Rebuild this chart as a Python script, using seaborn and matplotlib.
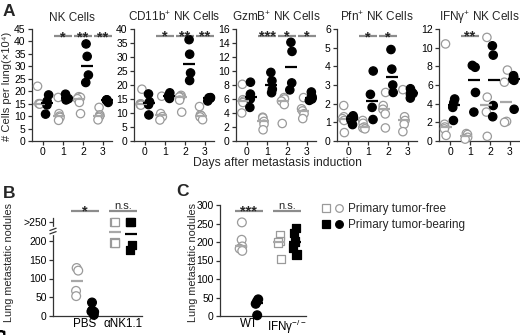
import warnings
warnings.filterwarnings("ignore")
import numpy as np
import pandas as pd
import matplotlib
matplotlib.use("Agg")
import matplotlib.pyplot as plt
import seaborn as sns
from matplotlib.lines import Line2D
from matplotlib.legend_handler import HandlerTuple
from matplotlib.transforms import blended_transform_factory

# ---------------- data ----------------
days = ["0", "1", "2", "3"]
free_label = "Primary tumor-free"
bear_label = "Primary tumor-bearing"

nk_free = [[22.0, 15.0, 15.0, 14.8], [17.5, 11.0, 10.0, 9.5, 8.3], [17.8, 17.5, 17.0, 15.5, 11.0], [13.5, 10.5, 10.0, 9.5, 8.5]]
nk_bear = [[18.5, 16.0, 14.5, 10.8], [18.8, 17.5, 17.0, 16.5], [39.0, 34.0, 26.5, 23.5], [16.5, 16.5, 16.4, 16.3, 15.5]]
cd11b_free = [[18.5, 13.3, 13.2, 13.0, 12.8], [16.0, 9.8, 8.7, 7.5], [16.3, 15.8, 15.7, 14.6, 10.3], [12.3, 9.3, 9.0, 8.6, 7.6]]
cd11b_bear = [[16.8, 14.0, 13.0, 9.3], [17.2, 16.3, 15.8, 15.2], [36.2, 31.0, 24.3, 21.6], [15.5, 15.4, 15.4, 15.3, 14.3]]
gzmb_free = [[8.1, 5.9, 5.7, 5.5, 4.0], [3.4, 3.3, 2.8, 2.4, 1.6], [6.2, 6.0, 5.7, 5.2, 2.5], [6.2, 4.6, 4.3, 3.9, 3.2]]
gzmb_bear = [[8.4, 6.7, 6.0, 4.8], [9.8, 8.6, 7.4, 6.9], [14.1, 12.8, 8.3, 7.3], [7.0, 6.4, 6.2, 6.0, 5.8]]
pfn_free = [[1.9, 1.3, 1.2, 1.1, 0.45], [1.1, 0.95, 0.75, 0.7, 0.65], [2.6, 1.9, 1.7, 1.45, 0.7], [2.75, 1.3, 1.1, 0.9, 0.5]]
pfn_bear = [[1.35, 1.25, 1.2, 1.1, 0.88], [3.75, 2.5, 1.8, 1.15], [4.9, 3.85, 3.0, 2.6], [2.8, 2.65, 2.55, 2.5, 2.3]]
ifng_free = [[10.4, 1.8, 1.5, 1.3, 0.6], [0.8, 0.7, 0.4, 0.2], [11.1, 4.7, 3.1, 0.5], [7.6, 6.3, 2.1, 2.0]]
ifng_bear = [[4.5, 4.1, 3.6, 2.2], [8.1, 7.9, 5.2, 3.1], [10.2, 9.2, 3.8, 2.6], [7.0, 6.8, 6.6, 6.5, 3.4]]

a_titles = ["NK Cells", r"CD11b$^{+}$ NK Cells", r"GzmB$^{+}$ NK Cells", r"Pfn$^{+}$ NK Cells", r"IFNγ$^{+}$ NK Cells"]
a_ymax = [45, 40, 16, 6, 12]
a_ystep = [5, 5, 2, 1, 2]
a_sig = [{1: "*", 2: "**", 3: "**"}, {1: "*", 2: "**", 3: "**"}, {1: "***", 2: "*", 3: "*"}, {1: "*", 2: "*"}, {1: "**"}]
a_sig_y = [42, 37.5, 15, 5.6, 11.3]

b_groups = ["PBS", "αNK1.1"]
b_free = [[128, 121, 67, 53], [250, 250, 196, 194]]
b_bear = [[36, 15, 12, 11, 3], [250, 250, 189, 176]]
b_sig = ["*", "n.s."]
b_ticks = [0, 50, 100, 150, 200, 250]
b_ticklabels = ["0", "50", "100", "150", "200", ">250"]

c_groups = ["WT", r"IFNγ$^{-/-}$"]
c_free = [[253, 206, 188, 182, 176], [219, 202, 199, 154]]
c_bear = [[45, 39, 33, 2], [238, 225, 201, 185, 166]]
c_sig = ["***", "n.s."]

# ---------------- style ----------------
sns.set_theme(style="ticks")
plt.rcParams["font.family"] = ["Liberation Sans", "DejaVu Sans"]
plt.rcParams["mathtext.fontset"] = "custom"
plt.rcParams["mathtext.rm"] = "Liberation Sans"
plt.rcParams["mathtext.it"] = "Liberation Sans:italic"
plt.rcParams["mathtext.bf"] = "Liberation Sans:bold"
plt.rcParams["mathtext.default"] = "regular"
np.random.seed(7)

GRAY_EDGE = "#9a9a9a"
GRAY_LINE = "#a8a8a8"
SIG_LINE = "#8c8c8c"
AX_COL = "#333333"

W, H = 520, 335
fig = plt.figure(figsize=(W / 100, H / 100), dpi=100)
fig.patch.set_facecolor("white")


def px_axes(left, top, width, height):
    return fig.add_axes([left / W, 1 - (top + height) / H, width / W, height / H])


def long_df(cats, free, bear):
    rows = []
    for c, vals in zip(cats, free):
        rows += [(c, free_label, v) for v in vals]
    for c, vals in zip(cats, bear):
        rows += [(c, bear_label, v) for v in vals]
    return pd.DataFrame(rows, columns=["cat", "group", "value"])


def style_axes(ax):
    sns.despine(ax=ax)
    for s in ["left", "bottom"]:
        ax.spines[s].set_color(AX_COL)
        ax.spines[s].set_linewidth(0.9)
    ax.tick_params(axis="both", length=3, width=0.9, color=AX_COL, labelsize=7.5, pad=1.5, labelcolor="black")
    ax.set_xlabel("")
    ax.set_ylabel("")
    ax.set_facecolor("none")


def fix_collections(ax):
    for coll in ax.collections:
        fc = coll.get_facecolor()
        if len(fc) and fc[0][0] > 0.9:
            coll.set_edgecolor(GRAY_EDGE)
        else:
            coll.set_edgecolor("black")
        coll.set_clip_on(False)
        coll.set_zorder(3)


def draw_group(ax, df, cats, marker="o", size=6, jitter=0.17):
    sns.stripplot(data=df, x="cat", y="value", hue="group", order=cats,
                  hue_order=[free_label, bear_label], dodge=True, jitter=jitter,
                  palette={free_label: "white", bear_label: "black"},
                  size=size, linewidth=0.9, marker=marker, ax=ax, legend=False)


def draw_medians(ax, df, cats, ms=8):
    sns.pointplot(data=df, x="cat", y="value", hue="group", order=cats,
                  hue_order=[free_label, bear_label], dodge=0.4,
                  estimator="median", errorbar=None, markers="_", linestyles="none",
                  palette={free_label: GRAY_LINE, bear_label: "black"},
                  markersize=ms, markeredgewidth=1.6, ax=ax, legend=False)
    for ln in ax.lines:
        ln.set_zorder(4)
        ln.set_clip_on(False)


def sig_bar(ax, x, y, label, half=0.45):
    ax.plot([x - half, x + half], [y, y], color=SIG_LINE, lw=1.6, clip_on=False, solid_capstyle="butt")
    if label.startswith("n"):
        ax.annotate(label, (x, y), xytext=(0, 1.5), textcoords="offset points",
                    ha="center", va="baseline", fontsize=8, annotation_clip=False)
    else:
        ax.annotate(label, (x, y), xytext=(0, -3.5), textcoords="offset points",
                    ha="center", va="baseline", fontsize=10.5, fontweight="bold", annotation_clip=False)


# ---------------- panel A ----------------
a_free = [nk_free, cd11b_free, gzmb_free, pfn_free, ifng_free]
a_bear = [nk_bear, cd11b_bear, gzmb_bear, pfn_bear, ifng_bear]
a_lefts = [32, 134, 236, 337, 439]
a_axes = []
for i in range(5):
    ax = px_axes(a_lefts[i], 29, 80, 112)
    df = long_df(days, a_free[i], a_bear[i])
    draw_group(ax, df, days)
    fix_collections(ax)
    draw_medians(ax, df, days)
    style_axes(ax)
    ax.set_xlim(-0.55, 3.45)
    ax.set_ylim(0, a_ymax[i])
    ax.set_yticks(np.arange(0, a_ymax[i] + 0.01, a_ystep[i]))
    ax.set_xticks(range(4))
    ax.set_xticklabels(days)
    ax.set_title(a_titles[i], fontsize=8.5, pad=6)
    for d, lab in a_sig[i].items():
        sig_bar(ax, d, a_sig_y[i], lab)
    a_axes.append(ax)

fig.text(7 / W, 1 - 86 / H, "# Cells per lung(×10⁴)", rotation=90,
         ha="center", va="center", fontsize=8.0)
fig.text(277 / W, 1 - 163 / H, "Days after metastasis induction", ha="center", va="center", fontsize=8.7)

# ---------------- panel B ----------------
B0 = 316
axB = px_axes(53, B0 - 295 * 0.375, 89, 295 * 0.375)
dfB = long_df(b_groups, b_free, b_bear)
draw_group(axB, dfB[dfB.cat == b_groups[0]], b_groups, marker="o", size=6.3, jitter=0.1)
draw_group(axB, dfB[dfB.cat == b_groups[1]], b_groups, marker="s", size=6.0, jitter=0.1)
fix_collections(axB)
draw_medians(axB, dfB, b_groups, ms=9)
style_axes(axB)
axB.set_xlim(-0.84, 1.5)
axB.set_ylim(0, 295)
axB.spines["left"].set_bounds(0, 262)
axB.set_yticks(b_ticks)
axB.set_yticklabels(b_ticklabels)
axB.set_xticks([0, 1])
axB.set_xticklabels(b_groups, fontsize=8.4)
axB.tick_params(axis="x", length=0, pad=1.5)
fig.text(9 / W, 1 - 262 / H, "Lung metastatic nodules", rotation=90, ha="center", va="center", fontsize=7.8)
for k, lab in enumerate(b_sig):
    sig_bar(axB, k, 280, lab, half=0.37)
tb = blended_transform_factory(axB.transAxes, axB.transData)
axB.plot([0, 0], [221, 234], color="white", lw=2.5, transform=tb, clip_on=False, zorder=5)
for yb in (222, 231):
    axB.plot([-0.035, 0.035], [yb - 3, yb + 3], color=AX_COL, lw=0.9, transform=tb, clip_on=False, zorder=6)

# ---------------- panel C ----------------
axC = px_axes(220, B0 - 111, 86, 111)
dfC = long_df(c_groups, c_free, c_bear)
draw_group(axC, dfC[dfC.cat == c_groups[0]], c_groups, marker="o", size=6.3, jitter=0.1)
draw_group(axC, dfC[dfC.cat == c_groups[1]], c_groups, marker="s", size=6.0, jitter=0.1)
fix_collections(axC)
draw_medians(axC, dfC, c_groups, ms=9)
style_axes(axC)
axC.set_xlim(-0.76, 1.5)
axC.set_ylim(0, 300)
axC.set_yticks(np.arange(0, 301, 50))
axC.set_xticks([0, 1])
axC.set_xticklabels(c_groups, fontsize=8.4)
axC.tick_params(axis="x", length=0, pad=1.5)
fig.text(193 / W, 1 - 262 / H, "Lung metastatic nodules", rotation=90, ha="center", va="center", fontsize=7.8)
for k, lab in enumerate(c_sig):
    sig_bar(axC, k, 284, lab, half=0.37)

# ---------------- legend ----------------
sq_o = Line2D([], [], marker="s", ls="none", mfc="white", mec=GRAY_EDGE, ms=5.5, mew=0.9)
ci_o = Line2D([], [], marker="o", ls="none", mfc="white", mec=GRAY_EDGE, ms=5.5, mew=0.9)
sq_f = Line2D([], [], marker="s", ls="none", mfc="black", mec="black", ms=5.5, mew=0.9)
ci_f = Line2D([], [], marker="o", ls="none", mfc="black", mec="black", ms=5.5, mew=0.9)
fig.legend(handles=[(sq_o, ci_o), (sq_f, ci_f)], labels=[free_label, bear_label],
           handler_map={tuple: HandlerTuple(ndivide=None, pad=0.5)},
           loc="upper left", bbox_to_anchor=(322 / W, 1 - 203 / H), frameon=False,
           fontsize=8.5, handlelength=1.8, handletextpad=0.4, labelspacing=0.35,
           borderaxespad=0, borderpad=0)

# ---------------- panel letters ----------------
fig.text(3 / W, 1 - 11 / H, "A", fontsize=12.5, fontweight="bold", va="center")
fig.text(3 / W, 1 - 194 / H, "B", fontsize=12.5, fontweight="bold", va="center")
fig.text(176 / W, 1 - 192 / H, "C", fontsize=12.5, fontweight="bold", va="center")

fig.savefig("out.png", dpi=100, facecolor="white")
